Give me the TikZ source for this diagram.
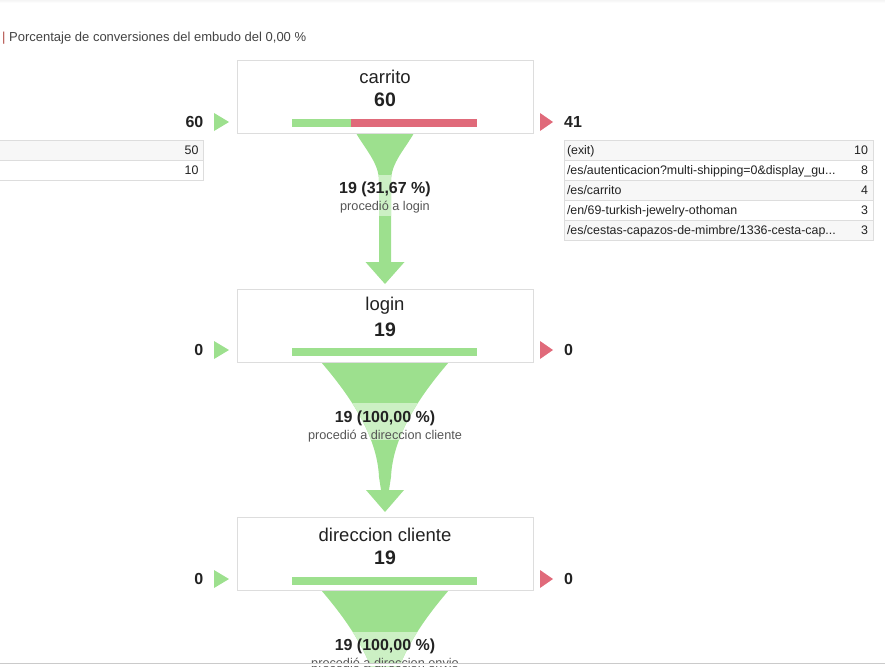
\documentclass[tikz,border=0pt]{standalone}
\usepackage{fontspec}
\setmainfont{Liberation Sans}
\definecolor{ink}{HTML}{222222}
\definecolor{subgray}{HTML}{555555}
\definecolor{boxline}{HTML}{DDDDDD}
\definecolor{rowgray}{HTML}{F7F7F7}
\definecolor{flowgreen}{HTML}{9DE08E}
\definecolor{bandgreen}{HTML}{CCF0C4}
\definecolor{exitred}{HTML}{E06A7A}
\definecolor{headred}{HTML}{B04A44}
\usetikzlibrary{calc}
\tikzset{
  stepbox/.style={draw=boxline, fill=white, minimum width=296pt, minimum height=73pt, inner sep=0pt},
  stepname/.style={font=\fontsize{18.5}{20}\selectfont, text=ink, inner sep=0pt},
  stepnum/.style={font=\fontsize{19.5}{21}\selectfont\bfseries, text=ink, inner sep=0pt},
  sidenum/.style={font=\fontsize{16}{18}\selectfont\bfseries, text=ink, inner sep=0pt},
  pct/.style={font=\fontsize{16}{18}\selectfont\bfseries, text=ink, inner sep=0pt},
  proc/.style={font=\fontsize{12.7}{14}\selectfont, text=subgray, inner sep=0pt},
  rowbox/.style={draw=boxline, minimum height=20pt, inner sep=0pt},
  rowtxt/.style={anchor=west, font=\fontsize{12.4}{14}\selectfont, text=ink, inner sep=0pt,
                 text height=10.8pt, text depth=2pt, xshift=3pt},
  rowval/.style={anchor=east, font=\fontsize{12.4}{14}\selectfont, text=ink, inner sep=0pt,
                 text height=10.8pt, text depth=2pt, xshift=-5pt},
  header/.style={anchor=west, font=\fontsize{13}{15}\selectfont, text=ink!85, inner sep=0pt},
}
\begin{document}
\begin{tikzpicture}[x=1pt,y=-1pt]
\useasboundingbox (0,0) rectangle (885,666);
\fill[top color=black!4, bottom color=white] (0,0) rectangle (885,3);

\node[header] (head) at (2,38.5) {\textcolor{headred}{|} Porcentaje de conversiones del embudo del 0,00 \%};

% funnels (drawn first, boxes sit on top)
\begin{scope}[shift={(385,133)}]
  \clip (-29,0) .. controls (-20,16) and (-6,30) .. (-6,48) -- (-6,129) -- (-19.5,129) -- (0,151)
        -- (19.5,129) -- (6,129) -- (6,48) .. controls (6,30) and (20,16) .. (29,0) -- cycle;
  \fill[flowgreen] (-40,0) rectangle (40,160);
  \fill[bandgreen] (-40,42) rectangle (40,83);
\end{scope}
\begin{scope}[shift={(385,362)}]
  \clip (-64,0) .. controls (-40,28) and (-8,70) .. (-6,115) -- (-4,128) -- (-19,128) -- (0,150)
        -- (19,128) -- (4,128) -- (6,115) .. controls (8,70) and (40,28) .. (64,0) -- cycle;
  \fill[flowgreen] (-70,0) rectangle (70,160);
  \fill[bandgreen] (-70,41) rectangle (70,78);
\end{scope}
\begin{scope}[shift={(385,590)}]
  \clip (-64,0) .. controls (-40,28) and (-8,70) .. (-6,115) -- (-4,128) -- (-19,128) -- (0,150)
        -- (19,128) -- (4,128) -- (6,115) .. controls (8,70) and (40,28) .. (64,0) -- cycle;
  \fill[flowgreen] (-70,0) rectangle (70,160);
  \fill[bandgreen] (-70,42) rectangle (70,80);
\end{scope}

% carrito
\node[stepbox] (carrito) at (385,96.5) {};
\node[stepname] (carritoname) at (385,77) {carrito};
\node[stepnum] (carritonum) at (385,99.5) {60};
\fill[flowgreen] (292,119) rectangle (351,127);
\fill[exitred] (351,119) rectangle (477,127);
\node[sidenum,anchor=east] (carritoin) at (203.5,122) {60};
\fill[flowgreen] (214,113) -- (229,122) -- (214,131) -- cycle;
\fill[exitred] (540,113) -- (553,122) -- (540,131) -- cycle;
\node[sidenum,anchor=west] (carritoout) at (564,122) {41};

% login
\node[stepbox] (login) at (385,325.5) {};
\node[stepname] (loginname) at (385,306) {login};
\node[stepnum] (loginnum) at (385,329.5) {19};
\fill[flowgreen] (292,348) rectangle (477,356);
\node[sidenum,anchor=east] (loginin) at (203.5,350) {0};
\fill[flowgreen] (214,341) -- (229,350) -- (214,359) -- cycle;
\fill[exitred] (540,341) -- (553,350) -- (540,359) -- cycle;
\node[sidenum,anchor=west] (loginout) at (564,350) {0};

% direccion cliente
\node[stepbox] (dircli) at (385,553.5) {};
\node[stepname] (dircliname) at (385,535) {direccion cliente};
\node[stepnum] (dirclinum) at (385,558) {19};
\fill[flowgreen] (292,577) rectangle (477,585);
\node[sidenum,anchor=east] (dircliin) at (203.5,579) {0};
\fill[flowgreen] (214,570) -- (229,579) -- (214,588) -- cycle;
\fill[exitred] (540,570) -- (553,579) -- (540,588) -- cycle;
\node[sidenum,anchor=west] (dircliout) at (564,579) {0};

% funnel labels
\node[pct] (tologinpct) at (385,189) {19 (31,67 \%)};
\node[proc] (tologin) at (385,207.5) {procedió a login};
\node[pct] (todirclipct) at (385,418) {19 (100,00 \%)};
\node[proc] (todircli) at (385,436) {procedió a direccion cliente};
\node[pct] (todirenvpct) at (385,646.5) {19 (100,00 \%)};
\node[proc] (todirenv) at (385,664.5) {procedió a direccion envio};

% entrances
\node[rowbox,fill=rowgray,minimum width=205pt] (ina) at (101,150.5) {};
\node[rowval] (inaval) at (ina.east) {50};
\node[rowbox,fill=white,minimum width=205pt] (inb) at (101,170.5) {};
\node[rowval] (inbval) at (inb.east) {10};

% exits
\node[rowbox,fill=rowgray,minimum width=309pt] (exa) at (718.5,150) {};
\node[rowtxt] (exatxt) at (exa.west) {(exit)};
\node[rowval] (exaval) at (exa.east) {10};
\node[rowbox,fill=white,minimum width=309pt] (exb) at (718.5,170) {};
\node[rowtxt] (exbtxt) at (exb.west) {/es/autenticacion?multi-shipping=0\&display\_gu...};
\node[rowval] (exbval) at (exb.east) {8};
\node[rowbox,fill=rowgray,minimum width=309pt] (exc) at (718.5,190) {};
\node[rowtxt] (exctxt) at (exc.west) {/es/carrito};
\node[rowval] (excval) at (exc.east) {4};
\node[rowbox,fill=white,minimum width=309pt] (exd) at (718.5,210) {};
\node[rowtxt] (exdtxt) at (exd.west) {/en/69-turkish-jewelry-othoman};
\node[rowval] (exdval) at (exd.east) {3};
\node[rowbox,fill=rowgray,minimum width=309pt] (exe) at (718.5,230) {};
\node[rowtxt] (exetxt) at (exe.west) {/es/cestas-capazos-de-mimbre/1336-cesta-cap...};
\node[rowval] (exeval) at (exe.east) {3};

% page edge
\fill[white] (0,662.5) rectangle (885,666);
\draw[boxline!80!gray, line width=1.5pt] (0,663.5) -- (885,663.5);
\end{tikzpicture}
\end{document}
